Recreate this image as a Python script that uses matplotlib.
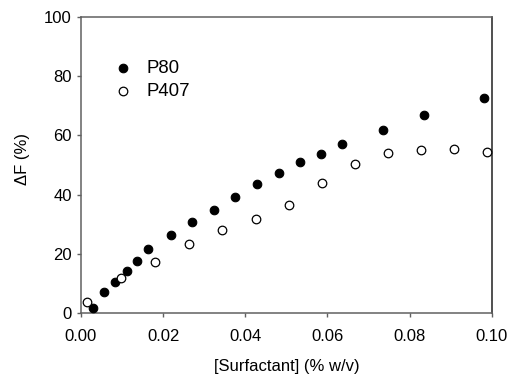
import numpy as np
import matplotlib
matplotlib.use("Agg")
import matplotlib.pyplot as plt

plt.rcParams['font.family'] = ['Liberation Sans', 'DejaVu Sans']

# P80 (filled circles)
p80_x = [0.0029, 0.0055, 0.0083, 0.0111, 0.0137, 0.0164, 0.0218, 0.0271, 0.0324,
         0.0376, 0.0429, 0.0481, 0.0533, 0.0585, 0.0635, 0.0736, 0.0835, 0.0982]
p80_y = [1.7, 6.9, 10.3, 14.0, 17.5, 21.6, 26.3, 30.7, 34.7,
         39.0, 43.5, 47.3, 50.9, 53.6, 57.1, 61.8, 67.0, 72.8]

# P407 (open circles)
p407_x = [0.0015, 0.0098, 0.0180, 0.0262, 0.0343, 0.0425, 0.0506, 0.0587,
          0.0668, 0.0748, 0.0828, 0.0908, 0.0988]
p407_y = [3.6, 11.7, 17.1, 23.4, 27.9, 31.6, 36.5, 43.8,
          50.3, 54.0, 55.1, 55.4, 54.3]

x_ticks = [0.00, 0.02, 0.04, 0.06, 0.08, 0.10]
y_ticks = [0, 20, 40, 60, 80, 100]

fig = plt.figure(figsize=(5.08, 3.76), dpi=100)
ax = fig.add_axes([0.1594, 0.1684, 0.8086, 0.7856])

ax.scatter(p80_x, p80_y, s=38, c='black', edgecolors='black', linewidths=0.8,
           label='P80', zorder=3, clip_on=False)
ax.scatter(p407_x, p407_y, s=38, facecolors='white', edgecolors='black',
           linewidths=0.9, label='P407', zorder=3, clip_on=False)

ax.set_xlim(0, 0.10)
ax.set_ylim(0, 100)
ax.set_xticks(x_ticks)
ax.set_xticklabels([f"{v:.2f}" for v in x_ticks])
ax.set_yticks(y_ticks)

ax.tick_params(axis='both', direction='out', length=3, width=1,
               color='#606060', labelsize=12)
ax.tick_params(axis='x', pad=8.5)
ax.tick_params(axis='y', pad=3.5)

for side in ['left', 'bottom', 'top']:
    ax.spines[side].set_color('#606060')
    ax.spines[side].set_linewidth(1.1)
ax.spines['right'].set_color('#202020')
ax.spines['right'].set_linewidth(1.1)

ax.set_xlabel('[Surfactant] (% w/v)', fontsize=12, labelpad=11)
ax.set_ylabel('ΔF (%)', fontsize=12, labelpad=8)
ax.yaxis.set_label_coords(-0.125, 0.52)

ax.legend(loc='upper left', bbox_to_anchor=(0.061, 0.88), frameon=False,
          fontsize=13.4, handletextpad=0.75, labelspacing=0.3,
          borderaxespad=0, handlelength=1.0)

fig.savefig('out.png', dpi=100)
